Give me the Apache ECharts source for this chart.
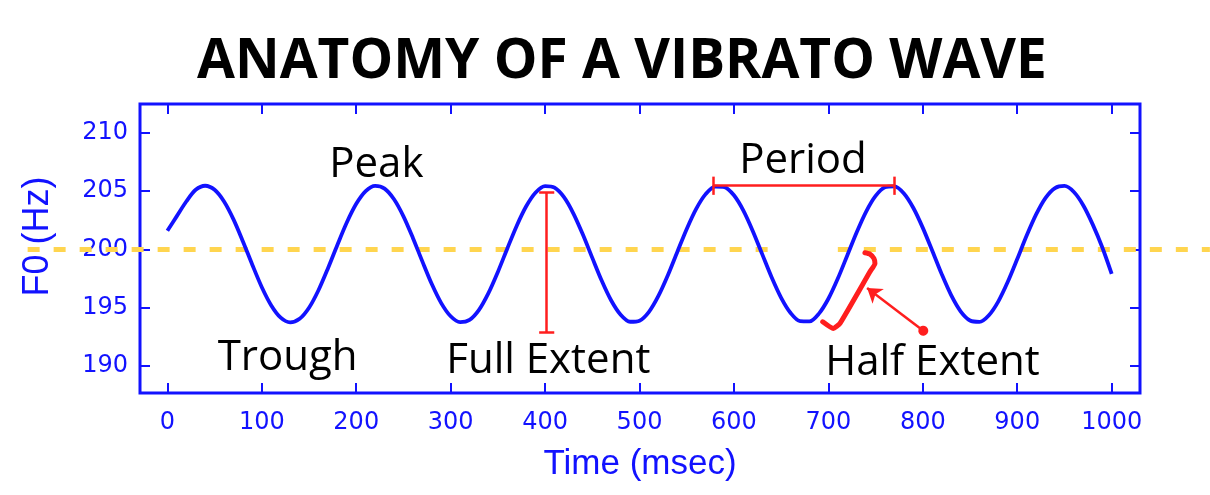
<!DOCTYPE html>
<html>
<head>
<meta charset="utf-8">
<script src="https://cdn.jsdelivr.net/npm/echarts@6/dist/echarts.min.js"></script>
<style>
html,body{margin:0;padding:0;background:#fff;}
#chart{width:1210px;height:495px;}
</style>
</head>
<body>
<div id="chart"></div>
<script>
// ---- data ----
var titleText = 'ANATOMY OF A VIBRATO WAVE';
var xTicks = [0, 100, 200, 300, 400, 500, 600, 700, 800, 900, 1000];
var yTicks = [190, 195, 200, 205, 210];
var times = [0,10,20,30,40,50,60,70,80,90,
  100,110,120,130,140,150,160,170,180,190,
  200,210,220,230,240,250,260,270,280,290,
  300,310,320,330,340,350,360,370,380,390,
  400,410,420,430,440,450,460,470,480,490,
  500,510,520,530,540,550,560,570,580,590,
  600,610,620,630,640,650,660,670,680,690,
  700,710,720,730,740,750,760,770,780,790,
  800,810,820,830,840,850,860,870,880,890,
  900,910,920,930,940,950,960,970,980,990,
  1000];
var f0 = [201.6, 202.85, 204.1, 205.1, 205.45, 205.1, 204.1, 202.57, 200.68, 198.67,
  196.76, 195.2, 194.15, 193.75, 194.05, 195.0, 196.5, 198.37, 200.38, 202.3,
  203.9, 204.99, 205.44, 205.2, 204.29, 202.83, 200.98, 198.97, 197.03, 195.4,
  194.27, 193.77, 193.96, 194.82, 196.25, 198.07, 200.08, 202.03, 203.69, 204.87,
  205.42, 205.28, 204.47, 203.07, 201.27, 199.27, 197.31, 195.62, 194.4, 193.8,
  193.89, 194.65, 196.01, 197.78, 199.78, 201.75, 203.47, 204.73, 205.38, 205.34,
  204.63, 203.32, 201.56, 199.57, 197.59, 195.85, 194.55, 193.85, 193.83, 194.5,
  195.77, 197.5, 199.48, 201.47, 203.24, 204.58, 205.32, 205.39, 204.78, 203.54,
  201.84, 199.88, 197.88, 196.08, 194.7, 193.91, 193.79, 194.36, 195.55, 197.22,
  199.17, 201.18, 202.99, 204.41, 205.25, 205.43, 204.91, 203.76, 202.12, 200.18,
  197.9];

// reference line (mean F0) and its visible spans (msec)
var refLevel = 200;
var refSpans = [[-148, 638], [710, 1104]];

// annotation texts: [x, y, text]
var notes = [
  [221.3, 207.25, 'Peak'],
  [127.3, 190.68, 'Trough'],
  [403.4, 190.42, 'Full Extent'],
  [673.1, 207.53, 'Period'],
  [810.2, 190.27, 'Half Extent']
];
// full extent bar: x, top, bottom
var fullExtent = [401.7, 204.85, 192.9];
// period bar: y, x start, x end
var period = [205.45, 578, 770];
// half extent bracket path
var bracketX = [694.0, 705.2, 712.3, 744.0, 749.3, 748.2, 744.0, 738.7];
var bracketY = [193.8, 193.23, 193.66, 198.08, 198.8, 199.23, 199.6, 199.71];
// arrow: from (dot) -> to (head)
var arrowFrom = [800.5, 193.03];
var arrowTo = [741, 196.7];

// ---- chart ----
var BLUE = '#1212ff';
var RED = '#ff1e1e';
var YEL = '#ffd54f';

var X_MIN = -29, X_MAX = 1030, Y_MIN = 187.7, Y_MAX = 212.45;
var GRID = { left: 140, top: 104, right: 70, bottom: 102 };
var W = 1210;
// full-width helper grid keeps the same msec-per-pixel scale
var pxPerUnit = (W - GRID.left - GRID.right) / (X_MAX - X_MIN);
var X2_MIN = X_MIN - GRID.left / pxPerUnit;
var X2_MAX = X_MAX + GRID.right / pxPerUnit;

var wave = times.map(function (t, i) { return [t, f0[i]]; });
var bracket = bracketX.map(function (x, i) { return [x, bracketY[i]]; });
var refData = [];
refSpans.forEach(function (s, i) {
  if (i > 0) refData.push([(refSpans[i - 1][1] + s[0]) / 2, '-']);
  refData.push([s[0], refLevel], [s[1], refLevel]);
});

var capW = 8, capH = 0.78;
var redLines = [
  [{ coord: [fullExtent[0], fullExtent[1]] }, { coord: [fullExtent[0], fullExtent[2]] }],
  [{ coord: [fullExtent[0] - capW, fullExtent[1]] }, { coord: [fullExtent[0] + capW, fullExtent[1]] }],
  [{ coord: [fullExtent[0] - capW, fullExtent[2]] }, { coord: [fullExtent[0] + capW, fullExtent[2]] }],
  [{ coord: [period[1], period[0]] }, { coord: [period[2], period[0]] }],
  [{ coord: [period[1], period[0] - capH] }, { coord: [period[1], period[0] + capH] }],
  [{ coord: [period[2], period[0] - capH] }, { coord: [period[2], period[0] + capH] }]
];

var chart = echarts.init(document.getElementById('chart'));
var labelFont = 'DejaVu Sans, sans-serif';
var nameFont = 'Liberation Sans, Arial, sans-serif';

function tickAxis(extra) {
  var base = {
    type: 'value',
    axisLine: { show: false, onZero: false },
    splitLine: { show: false },
    axisTick: { show: true, inside: true, length: 10, lineStyle: { color: BLUE, width: 2 } },
    axisLabel: { show: false }
  };
  for (var k in extra) base[k] = extra[k];
  return base;
}

chart.setOption({
  animation: false,
  backgroundColor: '#ffffff',
  title: {
    text: titleText,
    left: 197,
    top: 35,
    padding: 0,
    textStyle: {
      fontFamily: 'Open Sans',
      fontWeight: 'bold',
      fontSize: 55,
      color: '#000'
    }
  },
  grid: [{
    left: GRID.left, top: GRID.top, right: GRID.right, bottom: GRID.bottom,
    show: true, borderColor: BLUE, borderWidth: 3, backgroundColor: 'transparent'
  }, {
    left: 0, right: 0, top: GRID.top, bottom: GRID.bottom, show: false
  }],
  xAxis: [
    tickAxis({
      position: 'bottom', min: X_MIN, max: X_MAX, gridIndex: 0,
      axisTick: { show: true, inside: true, length: 10, customValues: xTicks, lineStyle: { color: BLUE, width: 2 } },
      axisLabel: {
        show: true, customValues: xTicks, color: BLUE, fontSize: 24, margin: 18, fontFamily: labelFont,
        formatter: function (v) { return String(v); }
      },
      name: 'Time (msec)', nameLocation: 'middle', nameGap: 54,
      nameTextStyle: { color: BLUE, fontSize: 35, fontFamily: nameFont }
    }),
    tickAxis({
      position: 'top', min: X_MIN, max: X_MAX, gridIndex: 0,
      axisTick: { show: true, inside: true, length: 10, customValues: xTicks, lineStyle: { color: BLUE, width: 2 } }
    }),
    { type: 'value', gridIndex: 1, min: X2_MIN, max: X2_MAX, show: false }
  ],
  yAxis: [
    tickAxis({
      position: 'left', min: Y_MIN, max: Y_MAX, gridIndex: 0,
      axisTick: { show: true, inside: true, length: 10, customValues: yTicks, lineStyle: { color: BLUE, width: 2 } },
      axisLabel: { show: true, customValues: yTicks, color: BLUE, fontSize: 24, margin: 12, fontFamily: labelFont },
      name: 'F0 (Hz)', nameLocation: 'middle', nameGap: 84, nameRotate: 90,
      nameTextStyle: { color: BLUE, fontSize: 36, fontFamily: nameFont, padding: [0, 0, 0, 24] }
    }),
    tickAxis({
      position: 'right', min: Y_MIN, max: Y_MAX, gridIndex: 0,
      axisTick: { show: true, inside: true, length: 10, customValues: yTicks, lineStyle: { color: BLUE, width: 2 } }
    }),
    { type: 'value', gridIndex: 1, min: Y_MIN, max: Y_MAX, show: false }
  ],
  series: [{
    name: 'mean F0',
    type: 'line',
    xAxisIndex: 2, yAxisIndex: 2,
    data: refData,
    showSymbol: false,
    connectNulls: false,
    silent: true,
    lineStyle: { color: YEL, width: 5, type: [12, 14] },
    z: 1
  }, {
    name: 'F0',
    type: 'line',
    data: wave,
    showSymbol: false,
    smooth: 0.3,
    lineStyle: { color: BLUE, width: 3.8 },
    itemStyle: { color: BLUE },
    z: 3
  }, {
    name: 'bracket',
    type: 'line',
    data: bracket,
    showSymbol: false,
    smooth: 0.15,
    clip: false,
    lineStyle: { color: RED, width: 5, cap: 'round', join: 'round' },
    itemStyle: { color: RED },
    z: 4
  }, {
    name: 'annotations',
    type: 'line',
    data: [],
    clip: false,
    z: 5,
    markLine: {
      silent: true,
      symbol: ['none', 'none'],
      label: { show: false },
      lineStyle: { color: RED, width: 2.5, type: 'solid' },
      data: redLines.concat([
        [{ coord: arrowFrom, symbol: 'circle', symbolSize: 10 },
         { coord: arrowTo, symbol: 'arrow', symbolSize: 14 }]
      ])
    },
    markPoint: {
      silent: true,
      symbol: 'circle',
      symbolSize: 0,
      itemStyle: { color: 'rgba(0,0,0,0)' },
      label: {
        show: true, position: 'inside', color: '#000',
        fontFamily: 'Open Sans', fontSize: 42,
        formatter: function (p) { return p.data.name; }
      },
      data: notes.map(function (n) { return { name: n[2], coord: [n[0], n[1]] }; })
    }
  }]
});
</script>
</body>
</html>
